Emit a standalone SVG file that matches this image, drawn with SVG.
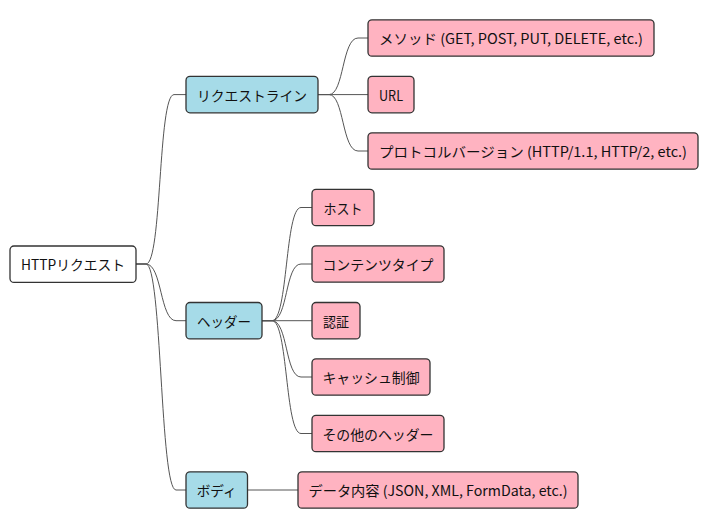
<svg xmlns="http://www.w3.org/2000/svg" width="711" height="530" viewBox="0 0 711 530">
<style>
  .box { stroke: #333; stroke-width: 1.3; }
  .root { fill: #ffffff; }
  .l1 { fill: #a6dbe8; }
  .l2 { fill: #ffb3c1; }
  .t { font-family: "Noto Sans CJK JP", "Noto Sans", sans-serif; font-size: 14px; fill: #111; text-anchor: middle; dominant-baseline: central; }
  .edge { fill: none; stroke: #555; stroke-width: 1; }
</style>
<rect width="711" height="530" fill="#ffffff"/>
<g id="connectors">
  <path class="edge" d="M136,264 H146 C162,264 158,94.6 174,94.6 H186"/>
  <path class="edge" d="M136,264 H146 C162,264 160,320.7 176,320.7 H186"/>
  <path class="edge" d="M136,264 H146 C162,264 160,490 176,490 H186"/>
  <path class="edge" d="M318,94.6 H329 C344,94.6 342,38 358,38 H368"/>
  <path class="edge" d="M318,94.6 H368"/>
  <path class="edge" d="M318,94.6 H329 C344,94.6 342,151 358,151 H368"/>
  <path class="edge" d="M262,320.7 H272 C288,320.7 285,207.5 301,207.5 H312"/>
  <path class="edge" d="M262,320.7 H272 C288,320.7 285,264 301,264 H312"/>
  <path class="edge" d="M262,320.7 H312"/>
  <path class="edge" d="M262,320.7 H272 C288,320.7 285,377 301,377 H312"/>
  <path class="edge" d="M262,320.7 H272 C288,320.7 285,433.5 301,433.5 H312"/>
  <path class="edge" d="M247.5,490 H298"/>
</g>
<g id="root">
  <rect class="box root" x="10" y="246" width="126" height="36.4" rx="4"/>
  <text class="t" x="73" y="264.2" textLength="104" lengthAdjust="spacingAndGlyphs">HTTPリクエスト</text>
</g>
<g id="request-line">
  <rect class="box l1" x="186" y="76.4" width="132" height="36.4" rx="4"/>
  <text class="t" x="252" y="94.6" textLength="110" lengthAdjust="spacingAndGlyphs">リクエストライン</text>
</g>
<g id="method">
  <rect class="box l2" x="368" y="19.8" width="286" height="36.4" rx="4"/>
  <text class="t" x="511" y="38" textLength="264" lengthAdjust="spacingAndGlyphs">メソッド (GET, POST, PUT, DELETE, etc.)</text>
</g>
<g id="url">
  <rect class="box l2" x="368" y="76.4" width="46" height="36.4" rx="4"/>
  <text class="t" x="391" y="94.6" textLength="24" lengthAdjust="spacingAndGlyphs">URL</text>
</g>
<g id="protocol">
  <rect class="box l2" x="368" y="132.8" width="330" height="36.4" rx="4"/>
  <text class="t" x="533" y="151" textLength="308" lengthAdjust="spacingAndGlyphs">プロトコルバージョン (HTTP/1.1, HTTP/2, etc.)</text>
</g>
<g id="headers">
  <rect class="box l1" x="186" y="302.5" width="76" height="36.4" rx="4"/>
  <text class="t" x="224" y="320.7" textLength="54" lengthAdjust="spacingAndGlyphs">ヘッダー</text>
</g>
<g id="host">
  <rect class="box l2" x="312" y="189.3" width="62" height="36.4" rx="4"/>
  <text class="t" x="343" y="207.5" textLength="39" lengthAdjust="spacingAndGlyphs">ホスト</text>
</g>
<g id="content-type">
  <rect class="box l2" x="312" y="245.8" width="132" height="36.4" rx="4"/>
  <text class="t" x="378" y="264" textLength="111" lengthAdjust="spacingAndGlyphs">コンテンツタイプ</text>
</g>
<g id="auth">
  <rect class="box l2" x="312" y="302.5" width="48" height="36.4" rx="4"/>
  <text class="t" x="336" y="320.7" textLength="26" lengthAdjust="spacingAndGlyphs">認証</text>
</g>
<g id="cache">
  <rect class="box l2" x="312" y="358.8" width="118" height="36.4" rx="4"/>
  <text class="t" x="371" y="377" textLength="97" lengthAdjust="spacingAndGlyphs">キャッシュ制御</text>
</g>
<g id="other-headers">
  <rect class="box l2" x="312" y="415.3" width="132" height="36.4" rx="4"/>
  <text class="t" x="378" y="433.5" textLength="111" lengthAdjust="spacingAndGlyphs">その他のヘッダー</text>
</g>
<g id="body">
  <rect class="box l1" x="186" y="471.8" width="61.5" height="36.4" rx="4"/>
  <text class="t" x="216.7" y="490" textLength="40" lengthAdjust="spacingAndGlyphs">ボディ</text>
</g>
<g id="data">
  <rect class="box l2" x="298" y="471.8" width="280" height="36.4" rx="4"/>
  <text class="t" x="438" y="490" textLength="259" lengthAdjust="spacingAndGlyphs">データ内容 (JSON, XML, FormData, etc.)</text>
</g>
</svg>
